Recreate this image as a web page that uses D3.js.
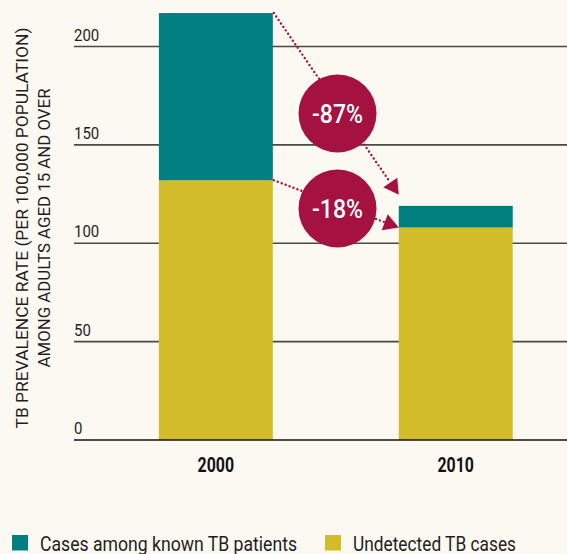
<!DOCTYPE html>
<html>
<head>
<meta charset="utf-8">
<script src="https://cdn.jsdelivr.net/npm/d3@7"></script>
<style>
  html, body { margin: 0; padding: 0; background: #fcf9f2; }
  svg { display: block; }
  text { font-family: Roboto, "Noto Sans", sans-serif; }
</style>
</head>
<body>
<svg id="chart" width="567" height="554"></svg>
<script>
// Data
const categories = ["2000", "2010"];
const knownCases = [85, 11];        // cases among known TB patients
const undetectedCases = [132, 108]; // undetected TB cases
const yTicks = [0, 50, 100, 150, 200];
const seriesNames = ["Cases among known TB patients", "Undetected TB cases"];
const yTitleLines = ["TB PREVALENCE RATE (PER 100,000 POPULATION)", "AMONG ADULTS AGED 15 AND OVER"];

const colors = { known: "#007e80", undetected: "#d3bc2a", accent: "#a51140", grid: "#4a4a45", bg: "#fcf9f2" };

const svg = d3.select("#chart");
const W = 567, H = 554;
svg.append("rect").attr("width", W).attr("height", H).attr("fill", colors.bg);

// Squeeze a text element horizontally to a given width (condensed look)
function fitWidth(sel, w) {
  sel.attr("textLength", w).attr("lengthAdjust", "spacingAndGlyphs");
  return sel;
}

const plotLeft = 74, plotRight = 567;
const y = d3.scaleLinear().domain([0, 200]).range([440, 46.5]);
const x = d3.scaleBand().domain(categories).range([plotLeft, plotRight])
  .paddingInner(0.525).paddingOuter(0.29).align(0.61);

// Gridlines
const g = svg.append("g");
g.selectAll("line.grid").data(yTicks.filter(d => d > 0)).join("line")
  .attr("class", "grid")
  .attr("x1", plotLeft).attr("x2", plotRight)
  .attr("y1", d => y(d)).attr("y2", d => y(d))
  .attr("stroke", colors.grid).attr("stroke-width", 1.6);

// Tick labels sit just above their gridline, condensed horizontally
g.selectAll("text.tick").data(yTicks).join("text")
  .attr("class", "tick")
  .attr("transform", d => `translate(${plotLeft},${y(d) - 6}) scale(0.88,1)`)
  .attr("font-size", 17).attr("fill", "#1e1e1e")
  .text(d => d);

// Stacked bars
const rows = categories.map((c, i) => ({ cat: c, undetected: undetectedCases[i], known: knownCases[i] }));
const stack = d3.stack().keys(["undetected", "known"])(rows);
svg.append("g").selectAll("g").data(stack).join("g")
  .attr("fill", s => colors[s.key])
  .selectAll("rect").data(s => s).join("rect")
  .attr("x", d => x(d.data.cat))
  .attr("width", x.bandwidth())
  .attr("y", d => y(d[1]))
  .attr("height", d => y(d[0]) - y(d[1]));

// Baseline
svg.append("line")
  .attr("x1", plotLeft).attr("x2", plotRight)
  .attr("y1", y(0)).attr("y2", y(0))
  .attr("stroke", "#111").attr("stroke-width", 1.6);

// X labels
svg.selectAll("text.xl").data(categories).join("text")
  .attr("class", "xl")
  .attr("x", d => x(d) + x.bandwidth() / 2).attr("y", 471.5)
  .attr("text-anchor", "middle").attr("font-weight", "bold")
  .attr("font-size", 20).attr("fill", "#111")
  .text(d => d)
  .call(fitWidth, 36.5);

// Y title
const yt = svg.append("text")
  .attr("transform", "translate(28,228) rotate(-90)")
  .attr("text-anchor", "middle").attr("font-size", 16).attr("fill", "#1e1e1e");
const titleWidths = [401, 279];
yTitleLines.forEach((t, i) => {
  yt.append("tspan").attr("x", 0).attr("dy", i === 0 ? 0 : 22).text(t)
    .call(fitWidth, titleWidths[i]);
});

// Change annotations: dotted connectors from 2000 segment tops to 2010 segment tops
const x0 = x("2000") + x.bandwidth();
const x1 = x("2010");
const changes = [
  { from: knownCases[0] + undetectedCases[0], to: knownCases[1] + undetectedCases[1],
    pct: Math.round((knownCases[1] / knownCases[0] - 1) * 100), cy: 113.5, lift: 11 },
  { from: undetectedCases[0], to: undetectedCases[1],
    pct: Math.round((undetectedCases[1] / undetectedCases[0] - 1) * 100), cy: 208.5, lift: 0 }
];
const cx = 337.5, r = 39;
const ann = svg.append("g");
changes.forEach(c => {
  const sx = x0 + 1, sy = y(c.from);
  const tx = x1, ty = y(c.to) - c.lift;
  const ang = Math.atan2(ty - sy, tx - sx);
  const headLen = 15, headW = 8.5;
  const bx = tx - headLen * Math.cos(ang), by = ty - headLen * Math.sin(ang);
  ann.append("line")
    .attr("x1", sx).attr("y1", sy).attr("x2", bx).attr("y2", by)
    .attr("stroke", colors.accent).attr("stroke-width", 2.4)
    .attr("stroke-dasharray", "0,4.2").attr("stroke-linecap", "round");
  const px = -Math.sin(ang), py = Math.cos(ang);
  ann.append("path")
    .attr("d", `M${tx},${ty} L${bx + px * headW},${by + py * headW} L${bx - px * headW},${by - py * headW} Z`)
    .attr("fill", colors.accent);
  ann.append("circle").attr("cx", cx).attr("cy", c.cy).attr("r", r).attr("fill", colors.accent);
  ann.append("text")
    .attr("x", cx).attr("y", c.cy + 9)
    .attr("text-anchor", "middle").attr("font-size", 25).attr("font-weight", 500).attr("fill", "#fff")
    .text(`${c.pct}%`)
    .call(fitWidth, 51);
});

// Legend
const legend = svg.append("g").attr("transform", "translate(0,535)");
const legendItems = [
  { name: seriesNames[0], color: colors.known, x: 12, w: 257 },
  { name: seriesNames[1], color: colors.undetected, x: 325, w: 163 }
];
legendItems.forEach(l => {
  legend.append("rect").attr("x", l.x).attr("y", 0).attr("width", 16).attr("height", 15.5).attr("fill", l.color);
  legend.append("text").attr("x", l.x + 28).attr("y", 15.5).attr("font-size", 21).attr("fill", "#1e1e1e")
    .text(l.name).call(fitWidth, l.w);
});
</script>
</body>
</html>
